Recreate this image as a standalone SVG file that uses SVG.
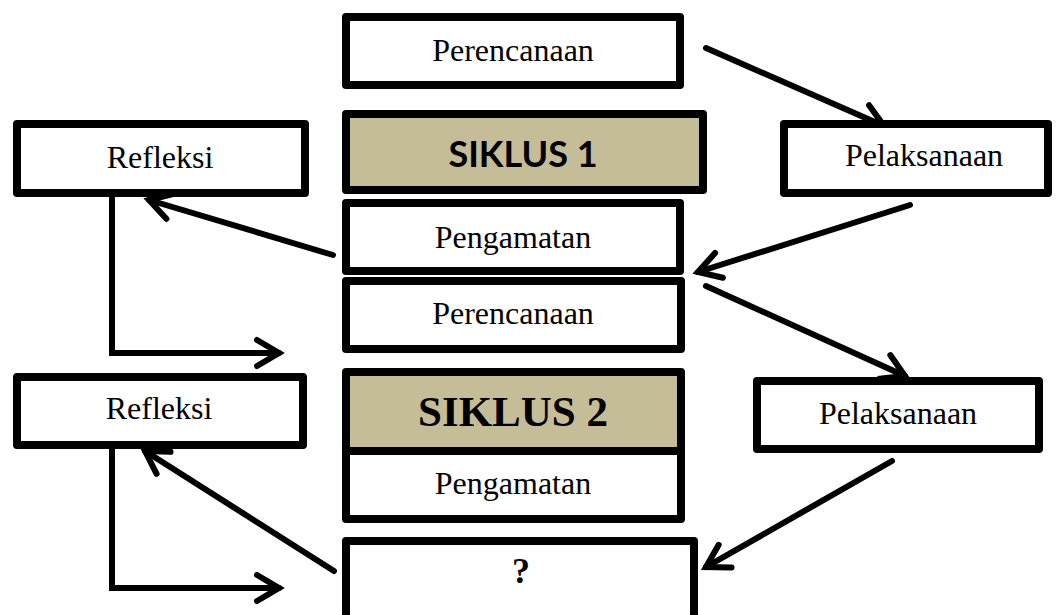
<svg xmlns="http://www.w3.org/2000/svg" width="1057" height="615" viewBox="0 0 1057 615">
<style>
.box{fill:#fff;stroke:#000;stroke-width:8;stroke-linejoin:round}
.sik{fill:#C5BC98;stroke:#000;stroke-width:8;stroke-linejoin:round}
.t{font-family:"Liberation Serif","Times New Roman",serif;font-size:32px;text-anchor:middle;fill:#000}
.c{fill:none;stroke:#000;stroke-width:6;stroke-linecap:round;stroke-linejoin:miter}
</style>
<defs>
<marker id="ah" markerUnits="userSpaceOnUse" markerWidth="40" markerHeight="40" viewBox="-30 -20 40 40" refX="0" refY="0" orient="auto">
<path d="M-22,-13 L0,0 L-22,13" fill="none" stroke="#000" stroke-width="6" stroke-linecap="round" stroke-linejoin="miter"/>
</marker>
</defs>
<g id="connectors">
<line class="c" x1="706" y1="48" x2="884" y2="126" marker-end="url(#ah)"/>
<line class="c" x1="910" y1="205" x2="698" y2="272" marker-end="url(#ah)"/>
<line class="c" x1="706" y1="286" x2="905" y2="376" marker-end="url(#ah)"/>
<line class="c" x1="333" y1="255" x2="149" y2="200" marker-end="url(#ah)"/>
<path class="c" d="M112,198 V353 H279" marker-end="url(#ah)"/>
<line class="c" x1="892" y1="461" x2="706" y2="567" marker-end="url(#ah)"/>
<line class="c" x1="334" y1="571" x2="145" y2="451" marker-end="url(#ah)"/>
<path class="c" d="M115,433 H112 V588 H279" marker-end="url(#ah)"/>
</g>
<g id="perencanaan1"><rect class="box" x="346" y="17" width="334" height="68"/><text class="t" x="513" y="61">Perencanaan</text></g>
<g id="siklus1"><rect class="sik" x="346" y="114" width="357" height="76"/><text x="523" y="167" font-family="Lato,'Liberation Sans',sans-serif" font-weight="bold" font-size="36" text-anchor="middle">SIKLUS 1</text></g>
<g id="refleksi1"><rect class="box" x="17" y="124" width="288" height="69"/><text class="t" x="160" y="168">Refleksi</text></g>
<g id="pelaksanaan1"><rect class="box" x="784" y="124" width="264" height="69"/><text class="t" x="924" y="166">Pelaksanaan</text></g>
<g id="pengamatan1"><rect class="box" x="346" y="203" width="334" height="68"/><text class="t" x="513" y="248">Pengamatan</text></g>
<g id="perencanaan2"><rect class="box" x="346" y="281" width="335" height="68"/><text class="t" x="513" y="324">Perencanaan</text></g>
<g id="siklus2"><rect class="sik" x="346" y="372" width="335" height="79"/><text x="513" y="426" font-family="'Liberation Serif',serif" font-weight="bold" font-size="43" text-anchor="middle">SIKLUS 2</text></g>
<g id="pengamatan2"><rect class="box" x="346" y="451" width="335" height="68"/><text class="t" x="513" y="494">Pengamatan</text></g>
<g id="refleksi2"><rect class="box" x="17" y="377" width="286" height="68"/><text class="t" x="159" y="419">Refleksi</text></g>
<g id="pelaksanaan2"><rect class="box" x="757" y="381" width="282" height="68"/><text class="t" x="898" y="424">Pelaksanaan</text></g>
<g id="tanya"><rect class="box" x="346" y="541" width="348" height="90"/><text x="521" y="583" font-family="'Liberation Serif',serif" font-weight="bold" font-size="36" text-anchor="middle">?</text></g>
</svg>
